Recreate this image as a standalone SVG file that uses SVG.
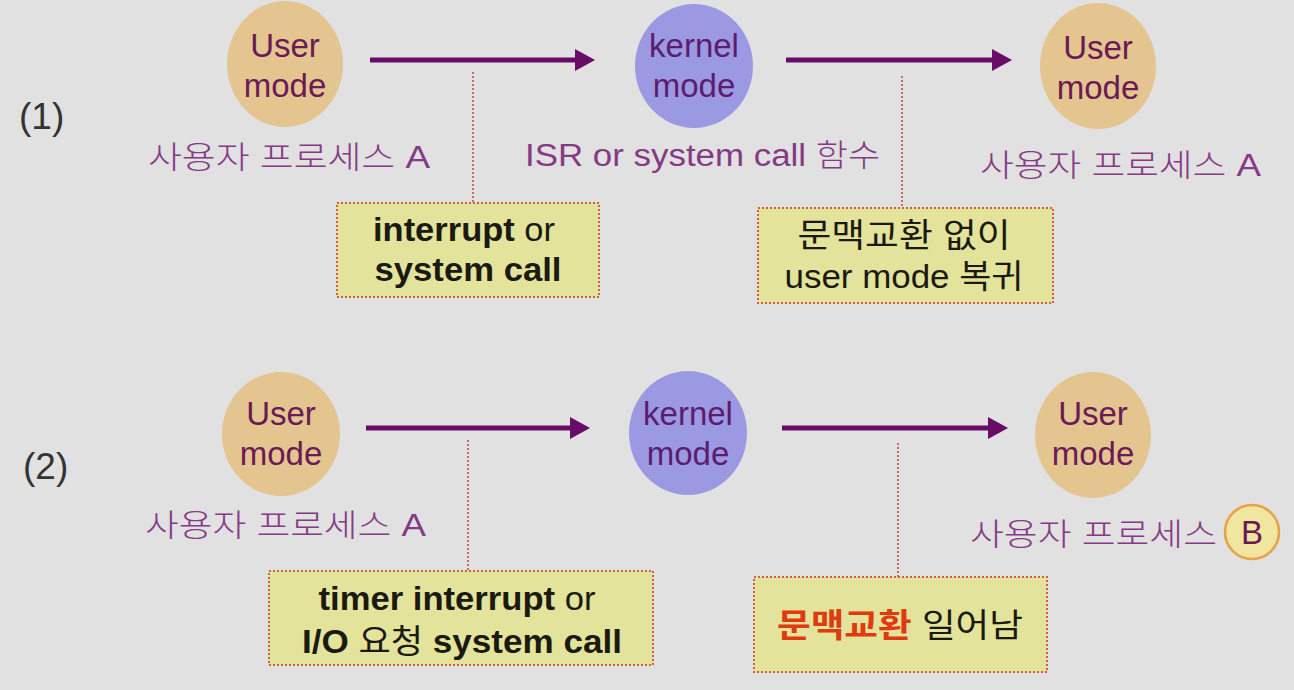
<svg xmlns="http://www.w3.org/2000/svg" width="1294" height="690" viewBox="0 0 1294 690">
<style>
.bg{fill:#e1e1e1}
.user{fill:#e4c48f}
.kern{fill:#9b99e1}
.ctext{font-family:"Liberation Sans",Arial,sans-serif;font-size:33px;fill:#6a1a55;text-anchor:middle}
.ktext{font-family:"Liberation Sans",Arial,sans-serif;font-size:33px;fill:#5c1c70;text-anchor:middle}
.kor{font-family:"Liberation Sans","Noto Sans CJK KR",sans-serif;font-size:31px;fill:#863a86;font-weight:300}
.num{font-family:"Liberation Sans",Arial,sans-serif;font-size:37px;fill:#333}
.note{fill:#e3e39b;stroke:#d0603c;stroke-width:2;stroke-dasharray:2 2}
.ntext{font-family:"Liberation Sans","Noto Sans CJK KR",sans-serif;font-size:33px;fill:#1a1a10;text-anchor:middle}
.b{font-weight:bold}
.arrow{stroke:#680c68;stroke-width:5;fill:none}
.dot{stroke:#c86a6a;stroke-width:2;stroke-dasharray:2 2;fill:none}
</style>
<defs>
<marker id="ah" viewBox="0 0 20 22" refX="10" refY="11" markerWidth="20" markerHeight="22" markerUnits="userSpaceOnUse" orient="auto">
<path d="M0,0 L20,11 L0,22 z" fill="#680c68"/>
</marker>
</defs>
<rect class="bg" x="0" y="0" width="1294" height="690"/>

<text class="num" x="19" y="129">(1)</text>
<text class="num" x="23" y="479">(2)</text>

<g id="connectors">
<line class="arrow" x1="370" y1="60" x2="585" y2="60" marker-end="url(#ah)"/>
<line class="arrow" x1="786" y1="60" x2="1002" y2="60" marker-end="url(#ah)"/>
<line class="arrow" x1="366" y1="428" x2="580" y2="428" marker-end="url(#ah)"/>
<line class="arrow" x1="782" y1="428" x2="998" y2="428" marker-end="url(#ah)"/>
<line class="dot" x1="473" y1="72" x2="473" y2="202"/>
<line class="dot" x1="902" y1="76" x2="902" y2="208"/>
<line class="dot" x1="468" y1="440" x2="468" y2="571"/>
<line class="dot" x1="898" y1="443" x2="898" y2="577"/>
</g>

<g id="user1a">
<ellipse class="user" cx="285" cy="64" rx="58" ry="63"/>
<text class="ctext" x="285" y="57">User</text>
<text class="ctext" x="285" y="97">mode</text>
<text class="kor" x="148" y="168" textLength="282" lengthAdjust="spacingAndGlyphs">사용자 프로세스 A</text>
</g>

<g id="kernel1">
<ellipse class="kern" cx="694" cy="66" rx="59" ry="62"/>
<text class="ktext" x="694" y="57">kernel</text>
<text class="ktext" x="694" y="97">mode</text>
<text class="kor" x="525" y="166" textLength="355" lengthAdjust="spacingAndGlyphs">ISR or system call 함수</text>
</g>

<g id="user1b">
<ellipse class="user" cx="1098" cy="66" rx="58" ry="63"/>
<text class="ctext" x="1098" y="59">User</text>
<text class="ctext" x="1098" y="99">mode</text>
<text class="kor" x="980" y="176" textLength="281" lengthAdjust="spacingAndGlyphs">사용자 프로세스 A</text>
</g>

<g id="note1a">
<rect class="note" x="337" y="203" width="262" height="94"/>
<text class="ntext" x="464" y="241" textLength="182" lengthAdjust="spacingAndGlyphs"><tspan class="b">interrupt</tspan> or</text>
<text class="ntext b" x="468" y="281" textLength="187" lengthAdjust="spacingAndGlyphs">system call</text>
</g>

<g id="note1b">
<rect class="note" x="758" y="208" width="295" height="95"/>
<text class="ntext" x="904" y="247" textLength="213" lengthAdjust="spacingAndGlyphs">문맥교환 없이</text>
<text class="ntext" x="904" y="288" textLength="239" lengthAdjust="spacingAndGlyphs">user mode 복귀</text>
</g>

<g id="user2a">
<ellipse class="user" cx="281" cy="434" rx="59" ry="62"/>
<text class="ctext" x="281" y="425">User</text>
<text class="ctext" x="281" y="465">mode</text>
<text class="kor" x="145" y="536" textLength="281" lengthAdjust="spacingAndGlyphs">사용자 프로세스 A</text>
</g>

<g id="kernel2">
<ellipse class="kern" cx="688" cy="433" rx="59" ry="62"/>
<text class="ktext" x="688" y="425">kernel</text>
<text class="ktext" x="688" y="465">mode</text>
</g>

<g id="user2b">
<ellipse class="user" cx="1093" cy="435" rx="58" ry="63"/>
<text class="ctext" x="1093" y="425">User</text>
<text class="ctext" x="1093" y="465">mode</text>
<text class="kor" x="970" y="545" textLength="247" lengthAdjust="spacingAndGlyphs">사용자 프로세스</text>
<circle cx="1252" cy="532" r="27" fill="#f0e6a0" stroke="#e8a048" stroke-width="2.5"/>
<text class="ctext" x="1252" y="544" style="font-size:33px">B</text>
</g>

<g id="note2a">
<rect class="note" x="269" y="571" width="384" height="94"/>
<text class="ntext" x="457" y="610" textLength="277" lengthAdjust="spacingAndGlyphs"><tspan class="b">timer interrupt</tspan> or</text>
<text class="ntext" x="462" y="653" textLength="320" lengthAdjust="spacingAndGlyphs"><tspan class="b">I/O</tspan> 요청 <tspan class="b">system call</tspan></text>
</g>

<g id="note2b">
<rect class="note" x="754" y="577" width="293" height="95"/>
<text class="ntext" x="900" y="637" textLength="246" lengthAdjust="spacingAndGlyphs"><tspan fill="#e03a10" font-weight="bold">문맥교환</tspan> 일어남</text>
</g>
</svg>
